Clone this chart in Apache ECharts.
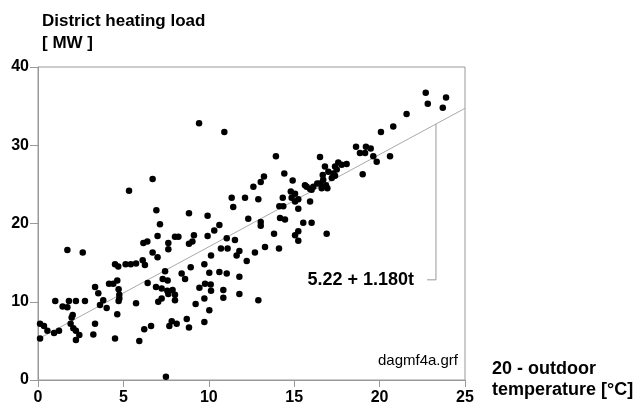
<!DOCTYPE html>
<html><head><meta charset="utf-8">
<script src="https://cdn.jsdelivr.net/npm/echarts@6/dist/echarts.min.js"></script>
<style>html,body{margin:0;padding:0;background:#fff}#c{width:637px;height:409px}</style>
</head><body><div id="c"></div>
<script>
// Outdoor temperature variable t = 20 - outdoor temperature [°C]
var tempValues = [7.14,7.0,1.72,2.62,6.17,6.4,7.63,7.63,6.71,7.0,4.51,4.70,5.13,5.43,5.74,6.13,6.26,7.44,6.42,8.41,7.30,7.59,6.91,7.24,7.57,7.88,8.02,7.63,7.04,7.24,3.34,3.53,4.16,4.41,4.64,4.72,4.76,4.76,4.72,3.82,3.63,4.02,5.74,4.64,1.01,1.81,2.22,2.75,1.44,1.72,2.03,1.97,0.12,0.35,0.55,0.94,1.23,0.12,1.91,2.07,2.22,2.42,2.22,3.34,3.24,4.51,5.93,6.22,6.62,7.69,7.83,8.12,7.49,
9.43,10.91,6.71,5.33,13.23,13.04,12.61,12.12,12.90,11.34,11.43,6.93,8.84,9.93,10.62,10.32,9.93,12.31,13.04,13.04,8.02,8.22,9.13,8.84,9.04,11.05,11.53,10.71,11.1,10.13,11.79,11.63,12.70,13.29,
14.11,12.22,8.61,8.94,9.74,10.03,10.62,11.05,11.79,8.02,9.45,9.78,10.11,10.13,10.85,10.85,11.79,12.9,9.74,9.23,10.03,8.71,8.84,9.74,
13.93,16.51,18.62,18.85,19.15,16.8,17.0,17.58,17.39,18.07,17.49,17.29,17.39,19.01,16.67,16.7,16.51,16.86,16.94,16.61,16.35,16.12,15.73,15.63,15.93,14.42,14.91,14.8,15.05,14.85,15.24,15.05,14.33,14.36,14.13,15.24,15.93,14.17,14.46,15.53,16.02,15.24,15.05,15.24,16.9,13.82,
22.7,23.89,22.82,23.7,21.58,20.8,20.08,19.2,19.48,19.63,19.83,20.61,17.78,17.2,16.02];
var loadValues = [19.9,18.4,16.6,16.3,17.5,17.7,17.5,16.7,16.3,15.7,14.8,14.5,14.8,14.8,14.9,15.3,14.7,13.9,12.4,13.6,12.9,12.7,11.9,11.7,11.4,11.5,10.9,11.0,10.0,10.4,11.9,11.1,12.3,12.3,12.7,11.6,10.9,10.4,10.1,10.2,9.6,9.2,9.8,8.4,10.1,10.1,10.1,10.1,9.4,9.3,8.3,8.0,7.2,6.9,6.3,6.0,6.3,5.3,7.2,6.6,6.3,5.75,5.1,7.2,5.8,5.3,5.0,6.5,6.9,6.9,7.5,7.2,0.4,
32.8,31.7,25.7,24.2,26.0,25.3,24.7,23.3,23.1,23.3,22.1,21.7,21.3,21.0,19.8,19.1,18.4,20.6,20.2,19.7,18.3,18.3,18.5,17.4,17.7,18.1,17.9,16.8,16.8,15.9,16.5,15.9,16.3,17.0,
16.8,15.2,12.9,14.4,14.8,13.7,13.8,13.6,13.2,10.2,11.8,12.3,12.2,11.4,11.5,10.5,11.0,10.2,10.4,9.7,8.9,7.8,6.7,7.4,
28.6,28.5,29.8,29.0,29.0,27.3,26.6,27.8,27.3,27.6,26.9,26.4,26.1,26.3,26.2,25.6,25.1,24.9,24.5,24.5,25.1,24.7,24.7,24.9,24.4,26.4,25.5,24.1,23.8,23.3,23.1,22.8,23.3,22.2,22.2,21.9,22.8,20.7,20.5,20.1,20.1,19.0,18.5,17.8,18.7,18.7,
36.7,36.1,35.3,34.8,34.0,32.4,31.7,29.8,29.6,28.6,27.9,28.6,27.5,25.8,24.3];
var fitIntercept = 5.22;
var fitSlope = 1.180;
var fitLabel = '5.22 + 1.180t';
var fileLabel = 'dagmf4a.grf';
var xTicks = [0, 5, 10, 15, 20, 25];
var yTicks = [0, 10, 20, 30, 40];
var yTitle = 'District heating load\n[ MW ]';
var xTitle = '20 - outdoor\ntemperature [°C]';
// leader line anchor (t value where the leader meets the fit) and label level
var leaderT = 23.3;
var leaderLevel = 12.8;
var leaderEndT = 22.78;

var points = tempValues.map(function (t, i) { return [t, loadValues[i]]; });
var fitLine = [[xTicks[0], fitIntercept + fitSlope * xTicks[0]], [xTicks[xTicks.length - 1], fitIntercept + fitSlope * xTicks[xTicks.length - 1]]];
var leader = [[leaderT, fitIntercept + fitSlope * leaderT], [leaderT, leaderLevel], [leaderEndT, leaderLevel]];

var FONT = 'Liberation Sans, Arial, sans-serif';
var chart = echarts.init(document.getElementById('c'), null, {renderer: 'canvas'});
chart.setOption({
  animation: false,
  backgroundColor: '#fff',
  title: {
    text: yTitle, left: 37, top: 5,
    textStyle: {fontFamily: FONT, fontWeight: 'bold', fontSize: 17, color: '#000', lineHeight: 22}
  },
  grid: {left: 38, right: 172, top: 67, bottom: 29, show: true, borderColor: '#999', borderWidth: 1, backgroundColor: 'transparent'},
  xAxis: {
    type: 'value', min: 0, max: 25, interval: 5,
    name: xTitle, nameLocation: 'end', nameGap: 27,
    nameTextStyle: {fontFamily: FONT, fontWeight: 'bold', fontSize: 18, color: '#000', align: 'left', verticalAlign: 'middle', lineHeight: 21},
    axisLine: {show: true, lineStyle: {color: '#999', width: 1}},
    axisTick: {show: true, length: 7, lineStyle: {color: '#999'}},
    axisLabel: {fontFamily: FONT, fontWeight: 'bold', fontSize: 16, color: '#000', margin: 10},
    splitLine: {show: false}
  },
  yAxis: {
    type: 'value', min: 0, max: 40, interval: 10,
    axisLine: {show: true, lineStyle: {color: '#999', width: 1}},
    axisTick: {show: true, length: 8, lineStyle: {color: '#999'}},
    axisLabel: {fontFamily: FONT, fontWeight: 'bold', fontSize: 16, color: '#000', margin: 9},
    splitLine: {show: false}
  },
  graphic: [{
    type: 'text', right: 179, top: 353,
    style: {text: fileLabel, font: '15px ' + FONT, fill: '#000', textAlign: 'right'}
  }],
  series: [
    {
      type: 'line', data: fitLine, symbol: 'none', silent: true, z: 1,
      lineStyle: {color: '#aaa', width: 1}
    },
    {
      type: 'line', data: leader, symbol: 'none', silent: true, z: 1,
      lineStyle: {color: '#999', width: 1}
    },
    {
      type: 'scatter', data: [leader[leader.length - 1]], symbolSize: 0, silent: true, z: 2,
      itemStyle: {opacity: 1},
      label: {show: true, formatter: fitLabel, position: 'left', distance: 13, opacity: 1,
        fontFamily: FONT, fontWeight: 'bold', fontSize: 18, color: '#000'}
    },
    {
      type: 'scatter', data: points, symbol: 'circle', symbolSize: 6.5, z: 3,
      itemStyle: {color: '#000', opacity: 1}
    }
  ]
});
</script></body></html>
